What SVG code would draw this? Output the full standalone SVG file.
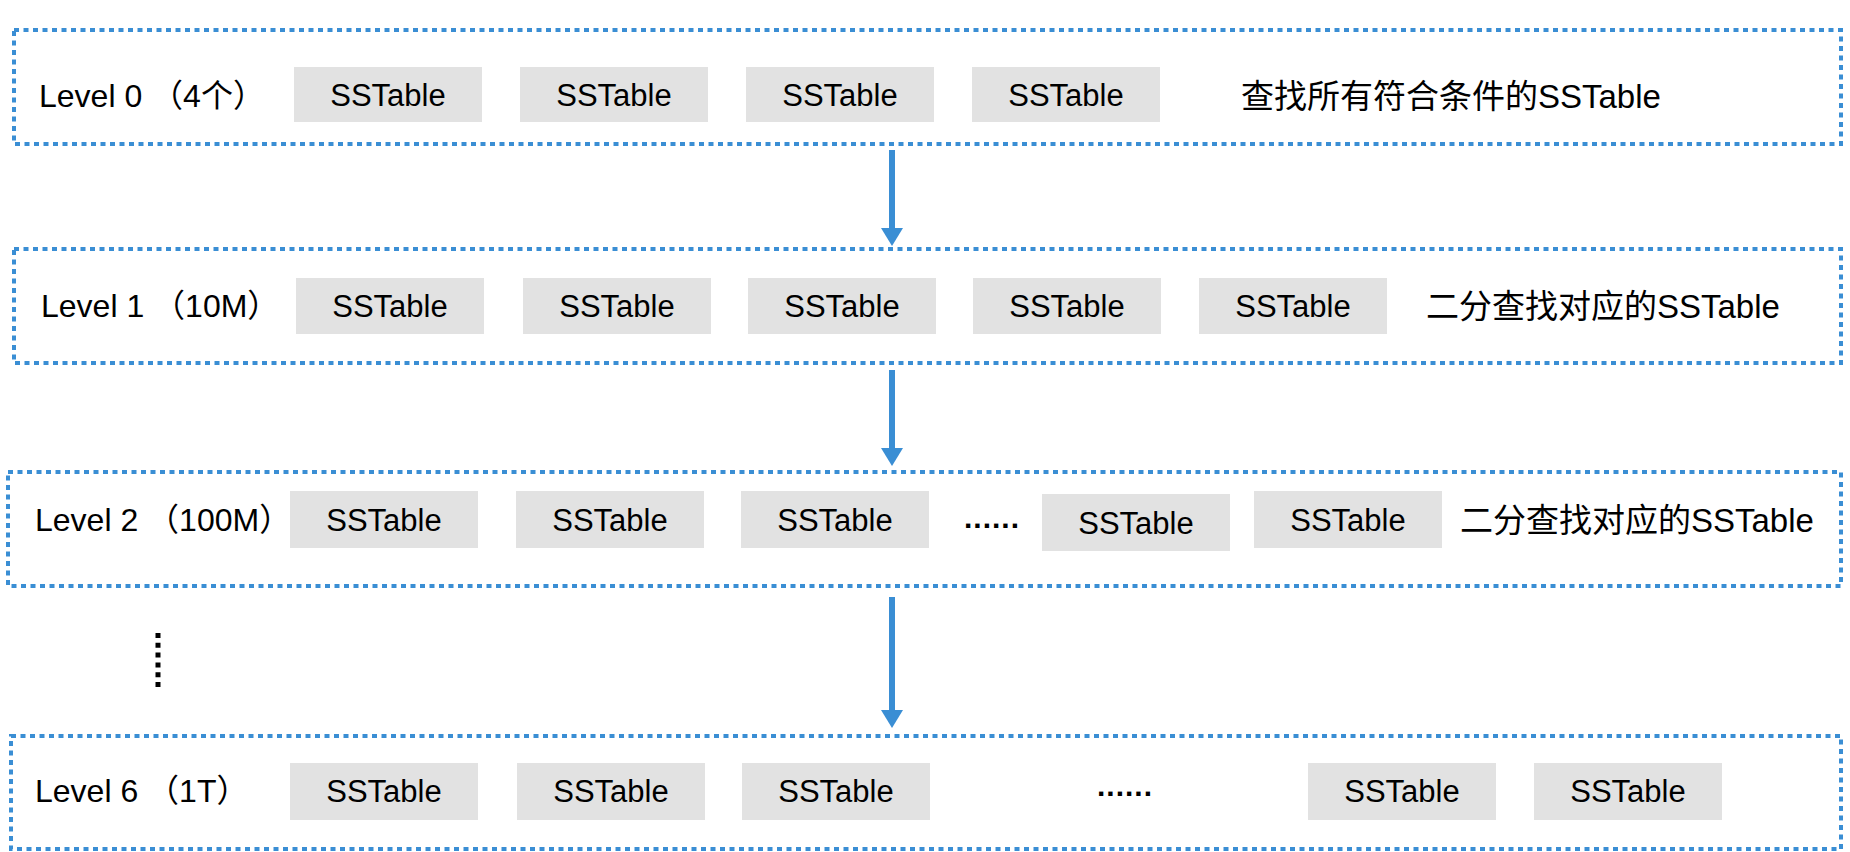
<svg xmlns="http://www.w3.org/2000/svg" width="1850" height="852" viewBox="0 0 1850 852">
<defs>
<style>
.frame{fill:none;stroke:#3a8ed4;stroke-width:4;stroke-dasharray:5 4.5}
.box{fill:#e2e2e2}
.lbl{font-family:"Liberation Sans","Noto Sans CJK SC",sans-serif;font-size:31px;fill:#000;text-anchor:middle}
.lvl{font-family:"Liberation Sans","Noto Sans CJK SC",sans-serif;font-size:32px;fill:#000}
.note{font-family:"Liberation Sans","Noto Sans CJK SC",sans-serif;font-size:33px;fill:#000}
.dots{font-family:"Liberation Sans",sans-serif;font-size:30px;font-weight:bold;fill:#000;letter-spacing:1px}
.conn{stroke:#3a8ed4;stroke-width:6;fill:none}
</style>
<marker id="ah" markerUnits="userSpaceOnUse" markerWidth="20" markerHeight="24" refX="0" refY="12" orient="auto">
<path d="M0,1 L18,12 L0,23 Z" fill="#3a8ed4"/>
</marker>
</defs>
<rect width="1850" height="852" fill="#fff"/>

<g id="level0">
<rect class="frame" x="14" y="30" width="1827" height="114"/>
<text class="lvl" x="39" y="107">Level 0 （4个）</text>
<rect class="box" x="294" y="67" width="188" height="55"/><text class="lbl" x="388" y="106">SSTable</text>
<rect class="box" x="520" y="67" width="188" height="55"/><text class="lbl" x="614" y="106">SSTable</text>
<rect class="box" x="746" y="67" width="188" height="55"/><text class="lbl" x="840" y="106">SSTable</text>
<rect class="box" x="972" y="67" width="188" height="55"/><text class="lbl" x="1066" y="106">SSTable</text>
<text class="note" x="1241" y="108">查找所有符合条件的SSTable</text>
</g>

<g id="level1">
<rect class="frame" x="14" y="249" width="1827" height="114"/>
<text class="lvl" x="41" y="317">Level 1 （10M）</text>
<rect class="box" x="296" y="278" width="188" height="56"/><text class="lbl" x="390" y="317">SSTable</text>
<rect class="box" x="523" y="278" width="188" height="56"/><text class="lbl" x="617" y="317">SSTable</text>
<rect class="box" x="748" y="278" width="188" height="56"/><text class="lbl" x="842" y="317">SSTable</text>
<rect class="box" x="973" y="278" width="188" height="56"/><text class="lbl" x="1067" y="317">SSTable</text>
<rect class="box" x="1199" y="278" width="188" height="56"/><text class="lbl" x="1293" y="317">SSTable</text>
<text class="note" x="1426" y="318">二分查找对应的SSTable</text>
</g>

<g id="level2">
<rect class="frame" x="8" y="472" width="1833" height="114"/>
<text class="lvl" x="35" y="531">Level 2 （100M）</text>
<rect class="box" x="290" y="491" width="188" height="57"/><text class="lbl" x="384" y="531">SSTable</text>
<rect class="box" x="516" y="491" width="188" height="57"/><text class="lbl" x="610" y="531">SSTable</text>
<rect class="box" x="741" y="491" width="188" height="57"/><text class="lbl" x="835" y="531">SSTable</text>
<text class="dots" x="964" y="528">......</text>
<rect class="box" x="1042" y="494" width="188" height="57"/><text class="lbl" x="1136" y="534">SSTable</text>
<rect class="box" x="1254" y="491" width="188" height="57"/><text class="lbl" x="1348" y="531">SSTable</text>
<text class="note" x="1460" y="532">二分查找对应的SSTable</text>
</g>

<g id="ellipsis">
<line x1="158" y1="633" x2="158" y2="688" stroke="#000" stroke-width="5" stroke-dasharray="5 4.8"/>
</g>

<g id="level6">
<rect class="frame" x="11" y="736" width="1830" height="113"/>
<text class="lvl" x="35" y="802">Level 6 （1T）</text>
<rect class="box" x="290" y="763" width="188" height="57"/><text class="lbl" x="384" y="802">SSTable</text>
<rect class="box" x="517" y="763" width="188" height="57"/><text class="lbl" x="611" y="802">SSTable</text>
<rect class="box" x="742" y="763" width="188" height="57"/><text class="lbl" x="836" y="802">SSTable</text>
<text class="dots" x="1097" y="796">......</text>
<rect class="box" x="1308" y="763" width="188" height="57"/><text class="lbl" x="1402" y="802">SSTable</text>
<rect class="box" x="1534" y="763" width="188" height="57"/><text class="lbl" x="1628" y="802">SSTable</text>
</g>

<g id="connectors">
<line class="conn" x1="892" y1="150" x2="892" y2="228" marker-end="url(#ah)"/>
<line class="conn" x1="892" y1="370" x2="892" y2="448" marker-end="url(#ah)"/>
<line class="conn" x1="892" y1="597" x2="892" y2="710" marker-end="url(#ah)"/>
</g>
</svg>
